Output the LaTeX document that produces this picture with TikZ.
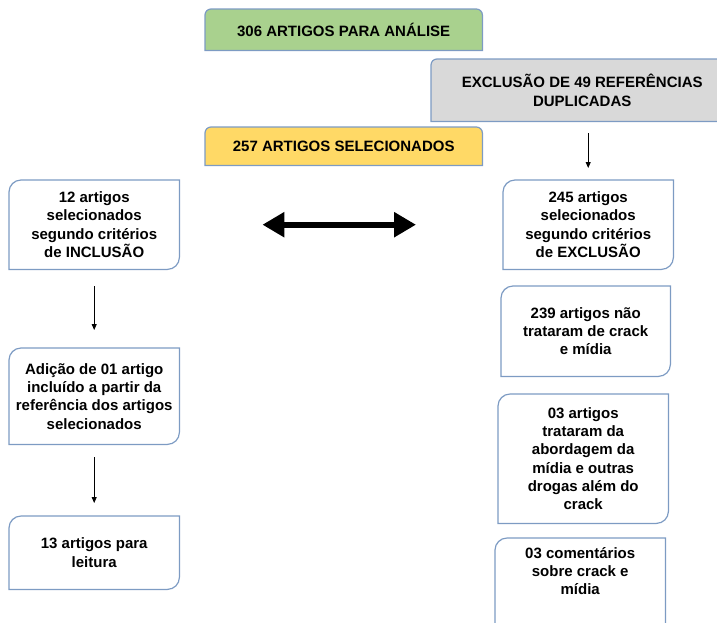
\documentclass[tikz,border=0pt]{standalone}
\usepackage{fontspec}
\setmainfont{Liberation Sans}
\usepackage{tikz}
\usetikzlibrary{arrows.meta,backgrounds}
\usetikzlibrary{calc}

\definecolor{boxline}{RGB}{125,155,195}
\definecolor{greenfill}{RGB}{169,209,142}
\definecolor{yellowfill}{RGB}{255,217,102}
\definecolor{grayfill}{RGB}{217,217,217}

% border with rounded top-left and bottom-right corners
\newcommand{\cornerbox}[1]{%
	\draw[boxborder] (#1.north east) -- ([yshift=12pt]#1.south east)
	.. controls ([yshift=5.4pt]#1.south east) and ([xshift=-5.4pt]#1.south east) .. ([xshift=-12pt]#1.south east)
	-- (#1.south west) -- ([yshift=-12pt]#1.north west)
	.. controls ([yshift=-5.4pt]#1.north west) and ([xshift=5.4pt]#1.north west) .. ([xshift=12pt]#1.north west)
	-- cycle;}
% filled border with rounded top corners
\newcommand{\headbox}[2]{%
	\draw[boxborder, fill=#2] (#1.south west) -- ([yshift=-6pt]#1.north west)
	.. controls ([yshift=-2.7pt]#1.north west) and ([xshift=2.7pt]#1.north west) .. ([xshift=6pt]#1.north west)
	-- ([xshift=-6pt]#1.north east)
	.. controls ([xshift=-2.7pt]#1.north east) and ([yshift=-2.7pt]#1.north east) .. ([yshift=-6pt]#1.north east)
	-- (#1.south east) -- cycle;}

\begin{document}
\begin{tikzpicture}[x=1pt, y=-1pt,
	boxtext/.style={inner sep=0pt, align=center, anchor=north west,
		font=\fontsize{15}{18.3}\selectfont\bfseries},
	boxborder/.style={draw=boxline, line width=1.2pt},
	thin arrow/.style={-{Triangle[length=6pt,width=5pt]}, line width=0.8pt},
	thick arrow/.style={{Triangle[length=22pt,width=24pt]}-{Triangle[length=22pt,width=24pt]}, line width=6pt}]
\path[use as bounding box] (0,0) rectangle (717,622);

\node[boxtext, minimum width=277pt, minimum height=41pt] (total) at (205,9) {306 ARTIGOS PARA ANÁLISE};
\node[boxtext, minimum width=302pt, minimum height=62pt] (dup) at (431,59) {EXCLUSÃO DE 49 REFERÊNCIAS\\DUPLICADAS};
\node[boxtext, minimum width=277pt, minimum height=38pt] (sel) at (205,127) {257 ARTIGOS SELECIONADOS};

\node[boxtext, minimum width=170pt, minimum height=89pt] (inc) at (9,180) {12 artigos\\selecionados\\segundo critérios\\de INCLUSÃO};
\node[boxtext, minimum width=170pt, minimum height=96pt] (add) at (9,348) {Adição de 01 artigo\\incluído a partir da\\referência dos artigos\\selecionados};
\node[boxtext, minimum width=170pt, minimum height=73pt] (read) at (9,516) {13 artigos para\\leitura};

\node[boxtext, minimum width=170pt, minimum height=89pt] (exc) at (503,180) {245 artigos\\selecionados\\segundo critérios\\de EXCLUSÃO};
\node[boxtext, minimum width=169pt, minimum height=90pt] (nocrack) at (501,286) {239 artigos não\\trataram de crack\\e mídia};
\node[boxtext, minimum width=170pt, minimum height=129pt] (drugs) at (498,394) {03 artigos\\trataram da\\abordagem da\\mídia e outras\\drogas além do\\crack};
\node[boxtext, minimum width=170pt, minimum height=66pt] (comm) at (495,538) {03 comentários\\sobre crack e\\mídia};

\begin{scope}[on background layer]
	\headbox{total}{greenfill}
	\headbox{dup}{grayfill}
	\headbox{sel}{yellowfill}
	\cornerbox{inc}
	\cornerbox{add}
	\cornerbox{read}
	\cornerbox{exc}
	\cornerbox{nocrack}
	\cornerbox{drugs}
	\draw[boxborder] ([yshift=-30pt]comm.south east) -- (comm.north east) -- ([xshift=12pt]comm.north west)
	.. controls ([xshift=5.4pt]comm.north west) and ([yshift=-5.4pt]comm.north west) .. ([yshift=-12pt]comm.north west)
	-- ([yshift=-30pt]comm.south west);
\end{scope}

\path[thin arrow]
(inc) edge[shorten <=17pt, shorten >=18pt] (add)
(add) edge[shorten <=13pt, shorten >=13pt] (read)
(dup.south -| exc.north) edge[shorten <=12pt, shorten >=12pt] (exc.north);
\path[thick arrow]
(inc.east) edge[shorten <=83pt, shorten >=87pt] (exc.west);
\end{tikzpicture}
\end{document}
